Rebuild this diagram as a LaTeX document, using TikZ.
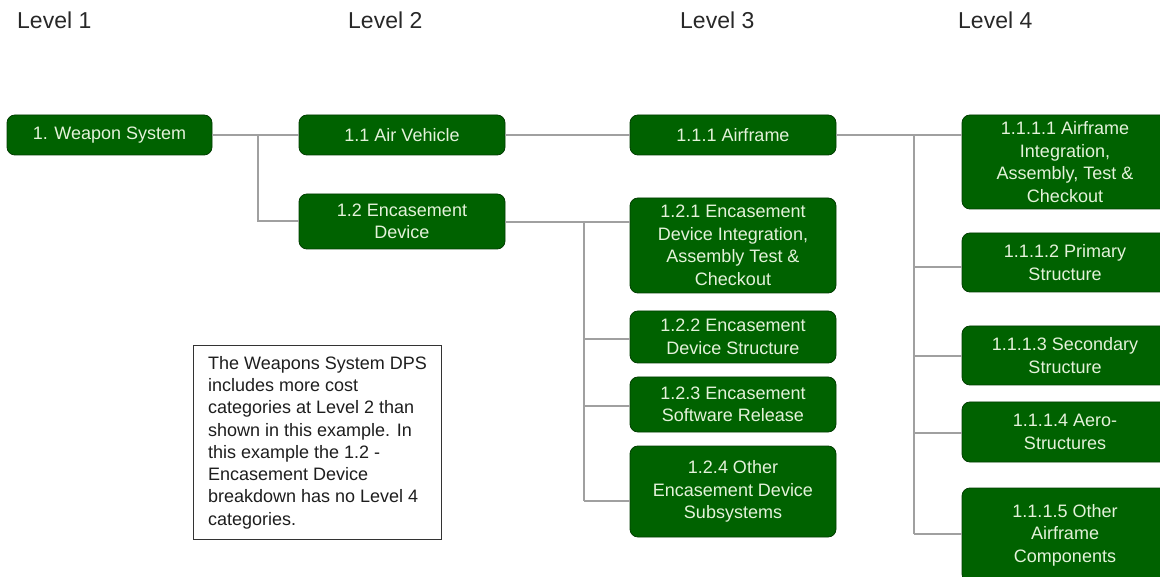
\documentclass[tikz,border=0pt]{standalone}
\usepackage{fontspec}
\setmainfont{Liberation Sans}
\definecolor{boxgreen}{RGB}{0,98,0}
\definecolor{boxborder}{RGB}{0,62,0}
\definecolor{boxtext}{RGB}{228,242,218}
\definecolor{conngray}{RGB}{160,160,160}
\definecolor{lvlgray}{RGB}{40,40,40}
\definecolor{notetext}{RGB}{30,30,30}
\begin{document}
\begin{tikzpicture}[x=1pt,y=-1pt,
  box/.style={draw=boxborder, line width=0.8pt, fill=boxgreen, rounded corners=8pt,
    text=boxtext, font=\fontsize{18}{22.5}\selectfont, align=center,
    minimum width=206pt, inner sep=0pt},
  conn/.style={draw=conngray, line width=2pt},
  lvl/.style={font=\fontsize{23}{27}\selectfont, text=lvlgray, anchor=base west, inner sep=0pt},
  notebox/.style={draw=black!80, line width=1pt, fill=white, text=notetext,
    font=\fontsize{18}{22.3}\selectfont, align=left, inner xsep=15pt,
    minimum height=193pt, inner ysep=0pt}]
\fill[white] (0,0) rectangle (1160,577);
\useasboundingbox (0,0) rectangle (1160,577);

% level labels
\node[lvl] (l1) at (17,29) {Level 1};
\node[lvl] (l2) at (348,29) {Level 2};
\node[lvl] (l3) at (680,29) {Level 3};
\node[lvl] (l4) at (958,29) {Level 4};

% boxes
\node[box, minimum width=205pt, minimum height=40pt] (ws) at (109.5,135) {1. Weapon System};
\node[box, minimum height=40pt] (av) at (402,135) {1.1 Air Vehicle};
\node[box, minimum height=55pt] (ed) at (402,221.5) {1.2 Encasement\\Device};
\node[box, minimum height=40pt] (af) at (733,135) {1.1.1 Airframe};
\node[box, minimum height=95pt] (e1) at (733,245.5) {1.2.1 Encasement\\Device Integration,\\Assembly Test \&\\Checkout};
\node[box, minimum height=52pt] (e2) at (733,337) {1.2.2 Encasement\\Device Structure};
\node[box, minimum height=55pt] (e3) at (733,404.5) {1.2.3 Encasement\\Software Release};
\node[box, minimum height=91pt] (e4) at (733,491.5) {1.2.4 Other\\Encasement Device\\Subsystems};
\node[box, minimum height=94pt] (a1) at (1065,162) {1.1.1.1 Airframe\\Integration,\\Assembly, Test \&\\Checkout};
\node[box, minimum height=59pt] (a2) at (1065,262.5) {1.1.1.2 Primary\\Structure};
\node[box, minimum height=59pt] (a3) at (1065,355.5) {1.1.1.3 Secondary\\Structure};
\node[box, minimum height=60pt] (a4) at (1065,432) {1.1.1.4 Aero-\\Structures};
\node[box, minimum height=94pt] (a5) at (1065,535) {1.1.1.5 Other\\Airframe\\Components};

% note
\node[notebox] (note) at (317.5,442.5) {The Weapons System DPS\\includes more cost\\categories at Level 2 than\\shown in this example. In\\this example the 1.2 -\\Encasement Device\\breakdown has no Level 4\\categories.};

% junction coordinates
\coordinate (j1) at (258,135);
\coordinate (j1b) at (258,221.5);
\coordinate (j2) at (584,222);
\coordinate (b2) at (584,339);
\coordinate (b3) at (584,406);
\coordinate (b4) at (584,501);
\coordinate (j3) at (914,135);
\coordinate (c2) at (914,267);
\coordinate (c3) at (914,356);
\coordinate (c4) at (914,433);
\coordinate (c5) at (914,534);

% connectors
\draw[conn] (ws.east) -- (av.west);
\draw[conn] (j1) -- (j1b) -- (ed.west);
\draw[conn] (av.east) -- (af.west);
\draw[conn] (ed.east |- j2) -- (j2 -| e1.west);
\draw[conn] (j2) -- (b4);
\draw[conn] (b2) -- (b2 -| e2.west);
\draw[conn] (b3) -- (b3 -| e3.west);
\draw[conn] (b4) -- (b4 -| e4.west);
\draw[conn] (af.east) -- (j3 -| a1.west);
\draw[conn] (j3) -- (c5);
\draw[conn] (c2) -- (c2 -| a2.west);
\draw[conn] (c3) -- (c3 -| a3.west);
\draw[conn] (c4) -- (c4 -| a4.west);
\draw[conn] (c5) -- (c5 -| a5.west);
\end{tikzpicture}
\end{document}
